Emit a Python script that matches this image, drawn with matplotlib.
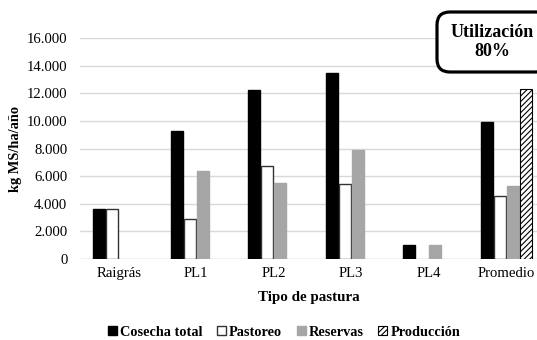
import numpy as np
import matplotlib
matplotlib.use('Agg')
import matplotlib.pyplot as plt
from matplotlib.patches import FancyBboxPatch

plt.rcParams['font.family'] = ['Liberation Serif', 'DejaVu Serif']
plt.rcParams['hatch.linewidth'] = 0.8

# data
categories = ['Raigrás', 'PL1', 'PL2', 'PL3', 'PL4', 'Promedio']
cosecha = [3600, 9300, 12200, 13450, 1000, 9900]
pastoreo = [3600, 2900, 6700, 5400, 0, 4550]
reservas = [0, 6400, 5500, 7900, 1000, 5300]
produccion = [0, 0, 0, 0, 0, 12300]
series_names = ['Cosecha total', 'Pastoreo', 'Reservas', 'Producción']

fig = plt.figure(figsize=(5.37, 3.4), dpi=100)
# axes extends slightly past the right edge, as in the original crop
ax = fig.add_axes([80 / 537, 1 - 259 / 340, 465 / 537, 221 / 340])

x = np.arange(len(categories))
step = 0.168
styles = [dict(color='black', edgecolor='black'),
          dict(color='white', edgecolor='#333333', linewidth=1),
          dict(color='#a6a6a6', edgecolor='#a6a6a6'),
          dict(color='white', edgecolor='black', hatch='//////', linewidth=0.8)]
data = [cosecha, pastoreo, reservas, produccion]

handles = []
for i, (vals, st) in enumerate(zip(data, styles)):
    vals = np.array(vals, dtype=float)
    pos = x + (i - 1.5) * step
    mask = vals > 0
    b = ax.bar(pos[mask], vals[mask], width=0.155, label=series_names[i], zorder=3, **st)
    handles.append(b)

ax.set_xlim(-0.5, len(categories) - 0.5)
ax.set_ylim(0, 16000)
ax.set_yticks(np.arange(0, 16001, 2000))
ax.set_yticklabels(['0' if v == 0 else '{:,}'.format(v).replace(',', '.') for v in range(0, 16001, 2000)])
ax.set_xticks(x)
ax.set_xticklabels(categories)
ax.tick_params(axis='both', length=0, labelsize=10.6, pad=6)
ax.tick_params(axis='y', pad=9)
ax.grid(True, axis='y', color='#d9d9d9', linewidth=1, zorder=0)
for s in ax.spines.values():
    s.set_visible(False)
ax.axhline(0, color='#d9d9d9', linewidth=1, zorder=1)

ax.set_xlabel('Tipo de pastura', fontsize=10.8, fontweight='bold')
ax.xaxis.set_label_coords((309 - 80) / 465, -(297 - 259) / 221, transform=ax.transAxes)
ax.xaxis.label.set_va('center')
ax.set_ylabel('kg MS/ha/año', fontsize=10.4, fontweight='bold')
ax.yaxis.set_label_coords(-(80 - 16) / 465, 0.5, transform=ax.transAxes)
ax.yaxis.label.set_va('center')

fig.legend(handles=handles, labels=series_names, loc='center', bbox_to_anchor=(284 / 537, 1 - 332 / 340),
           ncol=4, frameon=False, prop={'weight': 'bold', 'size': 10.3},
           handlelength=0.65, handleheight=0.65, handletextpad=0.2, columnspacing=1.0,
           borderpad=0, borderaxespad=0)

# rounded label box (in inches so the corners stay round)
box = FancyBboxPatch((4.37, 3.40 - 0.72), 1.12, 0.60, boxstyle='round,pad=0,rounding_size=0.13',
                     transform=fig.dpi_scale_trans, facecolor='white', edgecolor='black',
                     linewidth=2.3, zorder=5)
fig.add_artist(box)
fig.text(492.5 / 537, 1 - 42 / 340, 'Utilización\n80%', ha='center', va='center', fontsize=13,
         fontweight='bold', linespacing=1.2, zorder=6)

fig.savefig('out.png', dpi=100)
